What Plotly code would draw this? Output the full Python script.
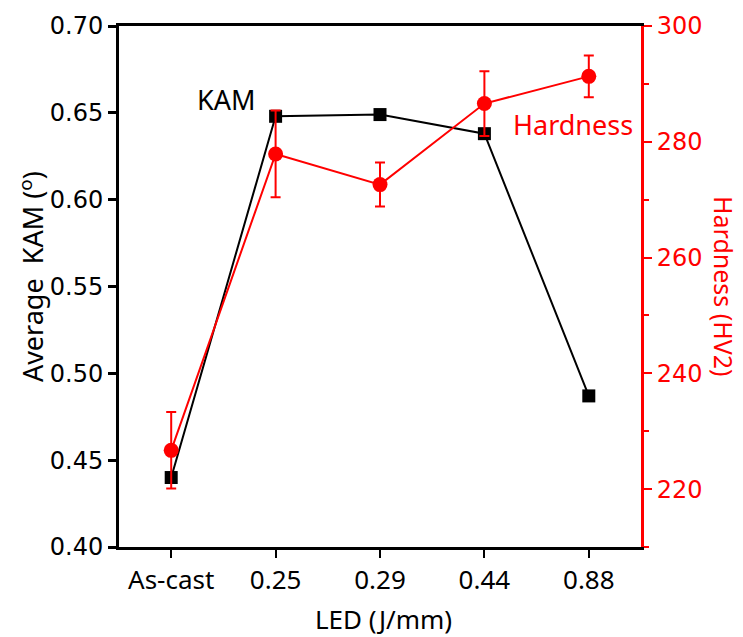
import plotly.graph_objects as go

categories = ["As-cast", "0.25", "0.29", "0.44", "0.88"]
kam = [0.440, 0.648, 0.649, 0.638, 0.487]
hardness = [226.7, 277.9, 272.6, 286.6, 291.3]
hardness_err = [6.6, 7.5, 3.8, 5.6, 3.6]

RED = "#ff0000"
fig = go.Figure()
fig.add_trace(go.Scatter(
    x=categories, y=kam, mode="lines+markers", name="KAM",
    line=dict(color="black", width=2),
    marker=dict(symbol="square", size=13, color="black"),
    yaxis="y", showlegend=False))
fig.add_trace(go.Scatter(
    x=categories, y=hardness, mode="lines+markers", name="Hardness",
    line=dict(color=RED, width=2),
    marker=dict(symbol="circle", size=15, color=RED),
    error_y=dict(type="data", array=hardness_err, color=RED, thickness=2, width=5),
    yaxis="y2", showlegend=False))

L, R, T, B = 119, 641, 20, 547
W, H = R - L, B - T

fig.update_layout(
    width=743, height=637,
    margin=dict(l=L, r=743 - R, t=T, b=637 - B),
    plot_bgcolor="white", paper_bgcolor="white",
    xaxis=dict(
        type="category", range=[-0.5, 4.5],
        showline=True, linecolor="black", linewidth=3, mirror=True,
        ticks="outside", ticklen=8, tickwidth=2, tickcolor="black",
        showgrid=False, zeroline=False,
        tickfont=dict(family="Noto Sans", size=26, color="black"),
    ),
    yaxis=dict(
        range=[0.40, 0.70], dtick=0.05, tickformat=".2f",
        showline=True, linecolor="black", linewidth=3,
        ticks="outside", ticklen=8, tickwidth=3, tickcolor="black",
        showgrid=False, zeroline=False,
        tickfont=dict(family="DejaVu Sans", size=24, color="black"),
    ),
    yaxis2=dict(
        range=[210, 300], dtick=20, tick0=220, overlaying="y", side="right",
        showline=True, linecolor=RED, linewidth=3,
        ticks="outside", ticklen=8, tickwidth=2, tickcolor=RED,
        minor=dict(dtick=10, ticks="outside", ticklen=5, tickwidth=2, tickcolor=RED),
        showgrid=False, zeroline=False,
        tickfont=dict(family="DejaVu Sans", size=24, color=RED),
    ),
    annotations=[
        dict(text="Average  KAM (<sup>o</sup>)", xref="paper", yref="paper",
             x=(31 - L) / W, y=(B - 274) / H, xanchor="center", yanchor="middle", textangle=-90,
             showarrow=False, font=dict(family="Noto Sans", size=27, color="black")),
        dict(text="Hardness (HV2)", xref="paper", yref="paper",
             x=(724 - L) / W, y=(B - 283) / H, xanchor="center", yanchor="middle", textangle=90,
             showarrow=False, font=dict(family="Noto Sans", size=25, color=RED)),
        dict(text="LED (J/mm)", xref="paper", yref="paper",
             x=(383 - L) / W, y=(B - 620) / H, xanchor="center", yanchor="middle",
             showarrow=False, font=dict(family="Noto Sans", size=26, color="black")),
        dict(text="KAM", xref="paper", yref="paper",
             x=(226 - L) / W, y=(B - 94) / H, xanchor="center", yanchor="middle",
             showarrow=False, font=dict(family="Noto Sans", size=27, color="black")),
        dict(text="Hardness", xref="paper", yref="paper",
             x=(573 - L) / W, y=(B - 120) / H, xanchor="center", yanchor="middle",
             showarrow=False, font=dict(family="Noto Sans", size=27, color=RED)),
    ],
)
fig.write_html("out.html")
